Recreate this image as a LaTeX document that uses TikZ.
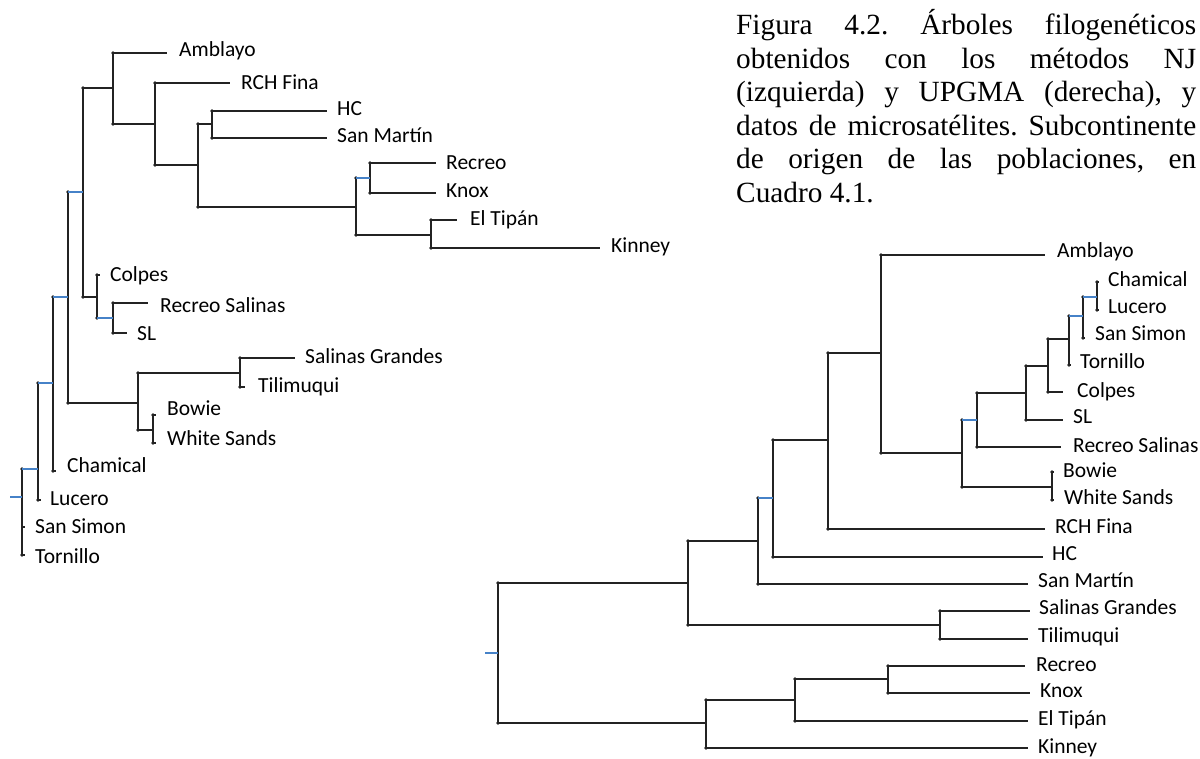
\documentclass[tikz,border=0pt]{standalone}
\usepackage{fontspec}
\setmainfont{Liberation Serif}
\newfontfamily\labfont{Carlito}
\definecolor{branch}{RGB}{35,35,35}
\definecolor{bluebr}{RGB}{70,130,200}
\tikzset{
  br/.style={draw=branch, line width=2pt},
  bl/.style={draw=bluebr, line width=2pt},
  lab/.style={anchor=base west, inner sep=0pt, font=\labfont\fontsize{21.5}{24}\selectfont, text=black},
  captext/.style={anchor=base west, inner sep=0pt}
}
\newcommand\hedge[3]{\draw[#1] (#2 |- #3) -- (#3);}
\newcommand\vspan[3]{\draw[br] (#1 |- #2) -- (#1 |- #3);
  \fill[branch] (#1 |- #2) circle (1.9pt); \fill[branch] (#1 |- #3) circle (1.9pt);}
\begin{document}
\begin{tikzpicture}[x=1pt,y=-1pt]
\useasboundingbox (0,0) rectangle (1200,759);
% ---------------- caption ----------------
\node[captext] (caption) at (736,35) {\parbox[t]{460pt}{\fontsize{29.3}{33.5}\selectfont\frenchspacing
Figura 4.2. Árboles filogenéticos\linebreak
obtenidos con los métodos NJ\linebreak
(izquierda) y UPGMA (derecha), y\linebreak
datos de microsatélites. Subcontinente\linebreak
de origen de las poblaciones, en\linebreak
Cuadro 4.1.}};
% ---------------- left tree (NJ) ----------------
\coordinate (L0) at (10,497);
\coordinate (LA1) at (22,497);
\coordinate (LA2) at (38,469);
\coordinate (LA3) at (53,383);
\coordinate (LA4) at (68,297);
\coordinate (LA5) at (83,192);
\coordinate (LC1) at (113,88);
\coordinate (LC2) at (155,124);
\coordinate (LC3) at (198,165);
\coordinate (LC4) at (212,124);
\coordinate (LC5) at (356,207);
\coordinate (LC6) at (370,178);
\coordinate (LC7) at (431,235);
\coordinate (LD1) at (97,297);
\coordinate (LD2) at (113,318);
\coordinate (LB1) at (138,403);
\coordinate (LB2) at (240,373);
\coordinate (LB3) at (153,430);
\coordinate (lSanSimon) at (25,527);
\coordinate (lTornillo) at (25,555);
\coordinate (lLucero) at (41,500);
\coordinate (lChamical) at (56,471);
\coordinate (lAmblayo) at (167,53);
\coordinate (lRCH) at (230,83);
\coordinate (lHC) at (327,111);
\coordinate (lSanMartin) at (327,138);
\coordinate (lRecreo) at (436,163);
\coordinate (lKnox) at (436,193);
\coordinate (lElTipan) at (457,220);
\coordinate (lKinney) at (600,248);
\coordinate (lColpes) at (100,275);
\coordinate (lRecreoSal) at (148,303);
\coordinate (lSL) at (127,333);
\coordinate (lSalinasG) at (295,358);
\coordinate (lTilimuqui) at (245,387);
\coordinate (lBowie) at (156,415);
\coordinate (lWhite) at (156,443);
% verticals
\vspan{LA1}{LA2}{lTornillo}
\vspan{LA2}{LA3}{lLucero}
\vspan{LA3}{LA4}{lChamical}
\vspan{LA4}{LA5}{LB1}
\vspan{LA5}{LC1}{LD1}
\vspan{LC1}{lAmblayo}{LC2}
\vspan{LC2}{lRCH}{LC3}
\vspan{LC3}{LC4}{LC5}
\vspan{LC4}{lHC}{lSanMartin}
\vspan{LC5}{LC6}{LC7}
\vspan{LC6}{lRecreo}{lKnox}
\vspan{LC7}{lElTipan}{lKinney}
\vspan{LD1}{lColpes}{LD2}
\vspan{LD2}{lRecreoSal}{lSL}
\vspan{LB1}{LB2}{LB3}
\vspan{LB2}{lSalinasG}{lTilimuqui}
\vspan{LB3}{lBowie}{lWhite}
% horizontals
\hedge{bl}{L0}{LA1}
\hedge{bl}{LA1}{LA2}
\hedge{br}{LA1}{lSanSimon}
\hedge{br}{LA1}{lTornillo}
\hedge{bl}{LA2}{LA3}
\hedge{br}{LA2}{lLucero}
\hedge{bl}{LA3}{LA4}
\hedge{br}{LA3}{lChamical}
\hedge{bl}{LA4}{LA5}
\hedge{br}{LA4}{LB1}
\hedge{br}{LA5}{LC1}
\hedge{br}{LA5}{LD1}
\hedge{br}{LC1}{lAmblayo}
\hedge{br}{LC1}{LC2}
\hedge{br}{LC2}{lRCH}
\hedge{br}{LC2}{LC3}
\hedge{br}{LC3}{LC4}
\hedge{br}{LC3}{LC5}
\hedge{br}{LC4}{lHC}
\hedge{br}{LC4}{lSanMartin}
\hedge{bl}{LC5}{LC6}
\hedge{br}{LC5}{LC7}
\hedge{br}{LC6}{lRecreo}
\hedge{br}{LC6}{lKnox}
\hedge{br}{LC7}{lElTipan}
\hedge{br}{LC7}{lKinney}
\hedge{br}{LD1}{lColpes}
\hedge{bl}{LD1}{LD2}
\hedge{br}{LD2}{lRecreoSal}
\hedge{br}{LD2}{lSL}
\hedge{br}{LB1}{LB2}
\hedge{br}{LB1}{LB3}
\hedge{br}{LB2}{lSalinasG}
\hedge{br}{LB2}{lTilimuqui}
\hedge{br}{LB3}{lBowie}
\hedge{br}{LB3}{lWhite}
% labels
\node[lab] (tlAmblayo) at (179,57) {Amblayo};
\node[lab] (tlRCH) at (241,90) {RCH Fina};
\node[lab] (tlHC) at (337,116) {HC};
\node[lab] (tlSanMartin) at (337,143) {San Martín};
\node[lab] (tlRecreo) at (446,170) {Recreo};
\node[lab] (tlKnox) at (446,198) {Knox};
\node[lab] (tlElTipan) at (470,226) {El Tipán};
\node[lab] (tlKinney) at (611,253) {Kinney};
\node[lab] (tlColpes) at (110,282) {Colpes};
\node[lab] (tlRecreoSal) at (160,313) {Recreo Salinas};
\node[lab] (tlSL) at (137,341) {SL};
\node[lab] (tlSalinasG) at (305,363) {Salinas Grandes};
\node[lab] (tlTilimuqui) at (258,392) {Tilimuqui};
\node[lab] (tlBowie) at (167,415) {Bowie};
\node[lab] (tlWhite) at (167,445) {White Sands};
\node[lab] (tlChamical) at (67,472) {Chamical};
\node[lab] (tlLucero) at (50,505) {Lucero};
\node[lab] (tlSanSimon) at (35,533) {San Simon};
\node[lab] (tlTornillo) at (35,563) {Tornillo};
% ---------------- right tree (UPGMA) ----------------
\coordinate (R0) at (485,653);
\coordinate (RP0) at (498,653);
\coordinate (RP1) at (688,583);
\coordinate (RP2) at (758,541);
\coordinate (RS1) at (940,625);
\coordinate (RP3) at (773,498);
\coordinate (RP4) at (828,440);
\coordinate (RP5) at (881,353);
\coordinate (RP6) at (962,453);
\coordinate (RP7) at (977,420);
\coordinate (RP8) at (1052,487);
\coordinate (RP9) at (1026,393);
\coordinate (RP10) at (1048,366);
\coordinate (RP11) at (1069,339);
\coordinate (RP12) at (1083,316);
\coordinate (RP13) at (1097,297);
\coordinate (RQ1) at (706,723);
\coordinate (RQ2) at (795,700);
\coordinate (RQ3) at (888,679);
\coordinate (rAmblayo) at (1045,255);
\coordinate (rChamical) at (1099,282);
\coordinate (rLucero) at (1099,310);
\coordinate (rSanSimon) at (1085,338);
\coordinate (rTornillo) at (1071,365);
\coordinate (rColpes) at (1063,392);
\coordinate (rSL) at (1063,420);
\coordinate (rRecreoSal) at (1061,447);
\coordinate (rBowie) at (1054,472);
\coordinate (rWhite) at (1054,500);
\coordinate (rRCH) at (1045,529);
\coordinate (rHC) at (1043,557);
\coordinate (rSanMartin) at (1028,584);
\coordinate (rSalinasG) at (1030,611);
\coordinate (rTilimuqui) at (1028,639);
\coordinate (rRecreo) at (1025,666);
\coordinate (rKnox) at (1030,693);
\coordinate (rElTipan) at (1028,721);
\coordinate (rKinney) at (1028,748);
% verticals
\vspan{RP0}{RP1}{RQ1}
\vspan{RP1}{RP2}{RS1}
\vspan{RS1}{rSalinasG}{rTilimuqui}
\vspan{RP2}{RP3}{rSanMartin}
\vspan{RP3}{RP4}{rHC}
\vspan{RP4}{RP5}{rRCH}
\vspan{RP5}{rAmblayo}{RP6}
\vspan{RP6}{RP7}{RP8}
\vspan{RP8}{rBowie}{rWhite}
\vspan{RP7}{RP9}{rRecreoSal}
\vspan{RP9}{RP10}{rSL}
\vspan{RP10}{RP11}{rColpes}
\vspan{RP11}{RP12}{rTornillo}
\vspan{RP12}{RP13}{rSanSimon}
\vspan{RP13}{rChamical}{rLucero}
\vspan{RQ1}{RQ2}{rKinney}
\vspan{RQ2}{RQ3}{rElTipan}
\vspan{RQ3}{rRecreo}{rKnox}
% horizontals
\hedge{bl}{R0}{RP0}
\hedge{br}{RP0}{RP1}
\hedge{br}{RP0}{RQ1}
\hedge{br}{RP1}{RP2}
\hedge{br}{RP1}{RS1}
\hedge{br}{RS1}{rSalinasG}
\hedge{br}{RS1}{rTilimuqui}
\hedge{bl}{RP2}{RP3}
\hedge{br}{RP2}{rSanMartin}
\hedge{br}{RP3}{RP4}
\hedge{br}{RP3}{rHC}
\hedge{br}{RP4}{RP5}
\hedge{br}{RP4}{rRCH}
\hedge{br}{RP5}{rAmblayo}
\hedge{br}{RP5}{RP6}
\hedge{bl}{RP6}{RP7}
\hedge{br}{RP6}{RP8}
\hedge{br}{RP8}{rBowie}
\hedge{br}{RP8}{rWhite}
\hedge{br}{RP7}{RP9}
\hedge{br}{RP7}{rRecreoSal}
\hedge{br}{RP9}{RP10}
\hedge{br}{RP9}{rSL}
\hedge{br}{RP10}{RP11}
\hedge{br}{RP10}{rColpes}
\hedge{bl}{RP11}{RP12}
\hedge{br}{RP11}{rTornillo}
\hedge{bl}{RP12}{RP13}
\hedge{br}{RP12}{rSanSimon}
\hedge{br}{RP13}{rChamical}
\hedge{br}{RP13}{rLucero}
\hedge{br}{RQ1}{RQ2}
\hedge{br}{RQ1}{rKinney}
\hedge{br}{RQ2}{RQ3}
\hedge{br}{RQ2}{rElTipan}
\hedge{br}{RQ3}{rRecreo}
\hedge{br}{RQ3}{rKnox}
% labels
\node[lab] (trAmblayo) at (1057,258) {Amblayo};
\node[lab] (trChamical) at (1108,287) {Chamical};
\node[lab] (trLucero) at (1108,314) {Lucero};
\node[lab] (trSanSimon) at (1095,341) {San Simon};
\node[lab] (trTornillo) at (1080,369) {Tornillo};
\node[lab] (trColpes) at (1077,397) {Colpes};
\node[lab] (trSL) at (1073,424) {SL};
\node[lab] (trRecreoSal) at (1073,452) {Recreo Salinas};
\node[lab] (trBowie) at (1063,477) {Bowie};
\node[lab] (trWhite) at (1064,504) {White Sands};
\node[lab] (trRCH) at (1055,533) {RCH Fina};
\node[lab] (trHC) at (1052,560) {HC};
\node[lab] (trSanMartin) at (1038,587) {San Martín};
\node[lab] (trSalinasG) at (1039,614) {Salinas Grandes};
\node[lab] (trTilimuqui) at (1038,642) {Tilimuqui};
\node[lab] (trRecreo) at (1036,671) {Recreo};
\node[lab] (trKnox) at (1040,697) {Knox};
\node[lab] (trElTipan) at (1038,725) {El Tipán};
\node[lab] (trKinney) at (1038,753) {Kinney};
\end{tikzpicture}
\end{document}
